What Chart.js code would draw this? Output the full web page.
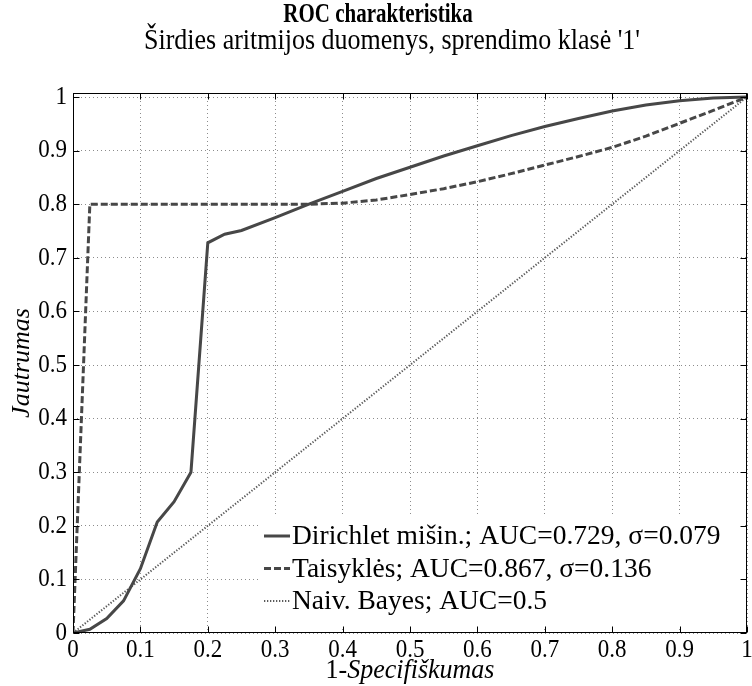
<!DOCTYPE html>
<html><head><meta charset="utf-8">
<script src="https://cdn.jsdelivr.net/npm/chart.js@4.4.0/dist/chart.umd.min.js"></script>
<style>html,body{margin:0;padding:0;background:#fff;}#wrap{width:752px;height:686px;position:relative}</style>
</head><body><div id="wrap"><canvas id="c" width="752" height="686"></canvas></div>
<script>
const titleText = 'ROC charakteristika';
const subtitleText = "Širdies aritmijos duomenys, sprendimo klasė '1'";
const xAxisPrefix = '1-';
const xAxisItalic = 'Specifiškumas';
const yAxisTitle = 'Jautrumas';
const tickValues = [0, 0.1, 0.2, 0.3, 0.4, 0.5, 0.6, 0.7, 0.8, 0.9, 1];
const tickLabels = ['0', '0.1', '0.2', '0.3', '0.4', '0.5', '0.6', '0.7', '0.8', '0.9', '1'];

const dirichletX = [0, 0.025, 0.05, 0.075, 0.1, 0.125, 0.15, 0.175, 0.2, 0.225, 0.25, 0.3, 0.35, 0.4, 0.45, 0.5, 0.55, 0.6, 0.65, 0.7, 0.75, 0.8, 0.85, 0.9, 0.95, 1];
const dirichletY = [0, 0.007, 0.027, 0.06, 0.12, 0.207, 0.245, 0.3, 0.728, 0.744, 0.751, 0.775, 0.8, 0.824, 0.848, 0.869, 0.89, 0.909, 0.928, 0.945, 0.96, 0.974, 0.985, 0.993, 0.998, 1];

const rulesX = [0, 0.025, 0.1, 0.2, 0.3, 0.35, 0.4, 0.45, 0.5, 0.55, 0.6, 0.65, 0.7, 0.75, 0.8, 0.85, 0.9, 0.95, 1];
const rulesY = [0, 0.8, 0.8, 0.8, 0.8, 0.8, 0.802, 0.808, 0.818, 0.829, 0.842, 0.857, 0.873, 0.889, 0.906, 0.927, 0.951, 0.975, 1];

const bayesX = [0, 1];
const bayesY = [0, 1];

const seriesLabels = ['Dirichlet mišin.; AUC=0.729, σ=0.079', 'Taisyklės; AUC=0.867, σ=0.136', 'Naiv. Bayes; AUC=0.5'];

const pts = (xs, ys) => xs.map((x, i) => ({x: x, y: ys[i]}));
const SERIF = '"Liberation Serif", "DejaVu Serif", serif';
const lineColor = '#474747';

const styles = [
  {borderWidth: 3, borderDash: [], borderColor: lineColor},
  {borderWidth: 3, borderDash: [7, 3], borderColor: lineColor},
  {borderWidth: 2, borderDash: [1.3, 1.7], borderColor: '#5a5a5a'}
];

function stretchedText(ctx, str, x, y, font, vscale, align) {
  ctx.save();
  ctx.font = font;
  ctx.textAlign = align;
  ctx.textBaseline = 'middle';
  ctx.translate(x, y);
  ctx.scale(1, vscale);
  ctx.fillText(str, 0, 0);
  ctx.restore();
}

const extras = {
  id: 'extras',
  afterDatasetsDraw(chart) {
    const ctx = chart.ctx, ca = chart.chartArea;
    const xs = chart.scales.x, ys = chart.scales.y;
    ctx.save();
    // legend box
    const lw = 482, lh = 115;
    const lx = ca.right - 4 - lw, ly = ca.bottom - 4 - lh;
    ctx.fillStyle = '#fff';
    ctx.fillRect(lx, ly, lw, lh);
    ctx.font = '27.5px ' + SERIF;
    ctx.textBaseline = 'middle';
    ctx.textAlign = 'left';
    chart.data.datasets.forEach((ds, i) => {
      const cy = ly + 22 + i * 32.5;
      ctx.strokeStyle = ds.borderColor;
      ctx.lineWidth = ds.borderWidth;
      ctx.setLineDash(ds.borderDash || []);
      ctx.beginPath();
      ctx.moveTo(lx + 3, cy);
      ctx.lineTo(lx + 29, cy);
      ctx.stroke();
      ctx.setLineDash([]);
      ctx.fillStyle = '#000';
      ctx.fillText(ds.label, lx + 31, cy + 1);
    });
    // frame
    ctx.strokeStyle = '#000';
    ctx.lineWidth = 1;
    ctx.setLineDash([]);
    const L = Math.round(ca.left) + 0.5, R = Math.round(ca.right) - 0.5;
    const T = Math.round(ca.top) + 0.5, B = Math.round(ca.bottom) - 0.5;
    ctx.strokeRect(L, T, R - L, B - T);
    ctx.beginPath();
    tickValues.forEach(v => {
      const px = Math.round(xs.getPixelForValue(v)) + 0.5;
      ctx.moveTo(px, B); ctx.lineTo(px, B - 6);
      ctx.moveTo(px, T); ctx.lineTo(px, T + 6);
      const py = Math.round(ys.getPixelForValue(v)) + 0.5;
      ctx.moveTo(L, py); ctx.lineTo(L + 6, py);
      ctx.moveTo(R, py); ctx.lineTo(R - 6, py);
    });
    ctx.stroke();
    // tick labels (positions from the library's scales)
    ctx.fillStyle = '#000';
    const tf = '23px ' + SERIF;
    tickValues.forEach((v, i) => {
      stretchedText(ctx, tickLabels[i], xs.getPixelForValue(v), ca.bottom + 17, tf, 1.12, 'center');
      stretchedText(ctx, tickLabels[i], ca.left - 6, ys.getPixelForValue(v), tf, 1.12, 'right');
    });
    // titles
    stretchedText(ctx, titleText, 378, 15, 'bold 21px ' + SERIF, 1.3, 'center');
    stretchedText(ctx, subtitleText, 392, 41, '26px ' + SERIF, 1.1, 'center');
    // x axis title (mixed)
    ctx.font = '26px ' + SERIF;
    const w1 = ctx.measureText(xAxisPrefix).width;
    ctx.font = 'italic 26px ' + SERIF;
    const w2 = ctx.measureText(xAxisItalic).width;
    const xc = (ca.left + ca.right) / 2;
    const x0 = xc - (w1 + w2) / 2;
    stretchedText(ctx, xAxisPrefix, x0, 671, '26px ' + SERIF, 1.08, 'left');
    stretchedText(ctx, xAxisItalic, x0 + w1, 671, 'italic 26px ' + SERIF, 1.08, 'left');
    // y axis title
    ctx.save();
    ctx.translate(22, (ca.top + ca.bottom) / 2);
    ctx.rotate(-Math.PI / 2);
    ctx.textAlign = 'center';
    ctx.textBaseline = 'middle';
    ctx.font = 'italic 26px ' + SERIF;
    ctx.fillText(yAxisTitle, 0, 0);
    ctx.restore();
    ctx.restore();
  }
};

const gridCfg = {color: 'rgba(0,0,0,0.45)', lineWidth: 1, drawTicks: false};

new Chart(document.getElementById('c'), {
  type: 'line',
  data: {
    datasets: [
      {label: seriesLabels[0], data: pts(dirichletX, dirichletY)},
      {label: seriesLabels[1], data: pts(rulesX, rulesY)},
      {label: seriesLabels[2], data: pts(bayesX, bayesY)}
    ].map((d, i) => Object.assign(d, styles[i], {backgroundColor: styles[i].borderColor, pointRadius: 0, fill: false, tension: 0}))
  },
  options: {
    responsive: false,
    devicePixelRatio: 1,
    animation: false,
    layout: {padding: {top: 93, right: 5, left: 0, bottom: 0}},
    plugins: {legend: {display: false}, tooltip: {enabled: false}, title: {display: false}},
    scales: {
      x: {
        type: 'linear', min: 0, max: 1,
        afterBuildTicks: s => { s.ticks = tickValues.map(v => ({value: v})); },
        afterFit: s => { s.height = 53; },
        grid: gridCfg,
        border: {display: false, dash: [1, 3]},
        ticks: {display: false}
      },
      y: {
        type: 'linear', min: 0, max: 1.0075,
        afterBuildTicks: s => { s.ticks = tickValues.map(v => ({value: v})); },
        afterFit: s => { s.width = 73; },
        grid: gridCfg,
        border: {display: false, dash: [1, 3]},
        ticks: {display: false}
      }
    }
  },
  plugins: [extras]
});
</script>
</body></html>
